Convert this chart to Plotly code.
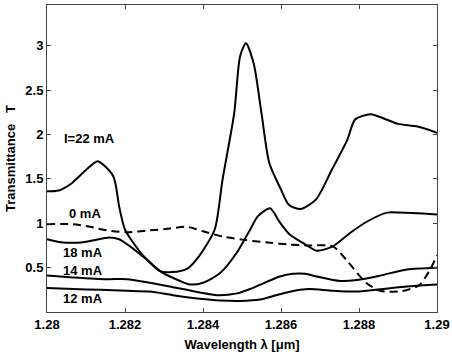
import plotly.graph_objects as go

# Wavelength (um) and transmittance for each current
x_22 = [1.2800, 1.2803, 1.2806, 1.2810, 1.2813, 1.2817, 1.28185, 1.2820, 1.2824, 1.2829, 1.2832,
        1.2836, 1.2839, 1.2843, 1.2845, 1.2848, 1.28495, 1.2851, 1.2853, 1.2855, 1.2857,
        1.2860, 1.2862, 1.2865, 1.2869, 1.2873, 1.2877, 1.2879, 1.2883, 1.2887, 1.2890,
        1.2895, 1.2900]
y_22 = [1.36, 1.37, 1.44, 1.60, 1.70, 1.53, 1.19, 0.93, 0.67, 0.46, 0.45,
        0.49, 0.63, 0.93, 1.49, 2.24, 2.88, 3.03, 2.80, 2.24, 1.68,
        1.38, 1.21, 1.16, 1.27, 1.60, 1.94, 2.17, 2.23, 2.17, 2.12,
        2.09, 2.02]

x_0 = [1.2800, 1.28067, 1.2811, 1.28154, 1.28205, 1.28264, 1.28315, 1.28359, 1.2840,
       1.28451, 1.2851, 1.28572, 1.28623, 1.28664, 1.28733, 1.28767, 1.28818, 1.28854,
       1.2891, 1.28954, 1.2898, 1.2900]
y_0 = [0.99, 0.99, 0.96, 0.92, 0.90, 0.92, 0.94, 0.96, 0.91,
       0.85, 0.81, 0.78, 0.76, 0.75, 0.74, 0.59, 0.33, 0.24,
       0.235, 0.30, 0.46, 0.64]

x_18 = [1.2800, 1.2803, 1.28075, 1.2811, 1.2816, 1.28185, 1.28213, 1.28256, 1.28297,
        1.28341, 1.28367, 1.2840, 1.28444, 1.28487, 1.28521, 1.28541, 1.28572, 1.28597,
        1.28623, 1.28656, 1.28692, 1.28733, 1.28777, 1.28821, 1.28872, 1.28905, 1.2900]
y_18 = [0.82, 0.79, 0.78, 0.80, 0.84, 0.82, 0.74, 0.59, 0.44,
        0.35, 0.31, 0.33, 0.44, 0.67, 0.93, 1.08, 1.17, 1.01,
        0.87, 0.78, 0.69, 0.74, 0.89, 1.02, 1.12, 1.12, 1.10]

x_14 = [1.2800, 1.28067, 1.28154, 1.28205, 1.28264, 1.28323, 1.28392, 1.28436, 1.28487,
        1.28521, 1.28597, 1.28631, 1.28662, 1.28692, 1.28751, 1.28795, 1.28854, 1.28923,
        1.2900]
y_14 = [0.41, 0.39, 0.37, 0.37, 0.33, 0.28, 0.22, 0.19, 0.21,
        0.26, 0.40, 0.43, 0.43, 0.40, 0.35, 0.36, 0.41, 0.48,
        0.50]

x_12 = [1.2800, 1.28067, 1.28136, 1.28205, 1.28264, 1.28323, 1.28392, 1.28444, 1.28495,
        1.28546, 1.28597, 1.28649, 1.28674, 1.28733, 1.28795, 1.28862, 1.28931, 1.2900]
y_12 = [0.27, 0.26, 0.25, 0.24, 0.23, 0.19, 0.15, 0.13, 0.125,
        0.14, 0.20, 0.25, 0.26, 0.24, 0.23, 0.26, 0.29, 0.31]

x_ticks = [1.28, 1.282, 1.284, 1.286, 1.288, 1.29]
x_tick_labels = ["1.28", "1.282", "1.284", "1.286", "1.288", "1.29"]
y_ticks = [0.5, 1, 1.5, 2, 2.5, 3]
y_tick_labels = ["0.5", "1", "1.5", "2", "2.5", "3"]

label_texts = ["I=22 mA", "0 mA", "18 mA", "14 mA", "12 mA"]
label_x = [1.2811, 1.28097, 1.28092, 1.28092, 1.28092]
label_y = [1.95, 1.11, 0.675, 0.47, 0.15]

FONT = "Liberation Sans, Arial, sans-serif"

fig = go.Figure()
line_kw = dict(color="black", width=2, shape="spline", smoothing=0.7)
for xs, ys, dash in [(x_22, y_22, "solid"), (x_0, y_0, "8px,5px"), (x_18, y_18, "solid"),
                     (x_14, y_14, "solid"), (x_12, y_12, "solid")]:
    fig.add_trace(go.Scatter(x=xs, y=ys, mode="lines",
                             line=dict(dash=dash, **line_kw), showlegend=False,
                             hoverinfo="skip"))

for t, lx, ly in zip(label_texts, label_x, label_y):
    fig.add_annotation(x=lx, y=ly, text="<b>%s</b>" % t, showarrow=False,
                       font=dict(family=FONT, size=13, color="black"))

axis_common = dict(showgrid=False, zeroline=False, showline=True, linecolor="#444",
                   linewidth=1, mirror="ticks", ticks="inside", ticklen=4,
                   tickcolor="#444", automargin=False,
                   tickfont=dict(family=FONT, size=13, color="black", weight="bold"))

fig.update_layout(
    width=452, height=357,
    margin=dict(l=47, r=15, t=5, b=45),
    paper_bgcolor="white", plot_bgcolor="white",
    xaxis=dict(range=[1.28, 1.29], tickvals=x_ticks, ticktext=x_tick_labels,
               title=dict(text="<b>Wavelength λ [μm]</b>", standoff=9,
                          font=dict(family=FONT, size=13, color="black")),
               **axis_common),
    yaxis=dict(range=[0, 3.46], tickvals=y_ticks, ticktext=y_tick_labels,
               title=dict(text="<b>Transmittance   T</b>", standoff=6,
                          font=dict(family=FONT, size=13, color="black")),
               **axis_common),
)

fig.write_html("out.html", config={"displayModeBar": False},
               post_script="document.body.style.margin='0';")
